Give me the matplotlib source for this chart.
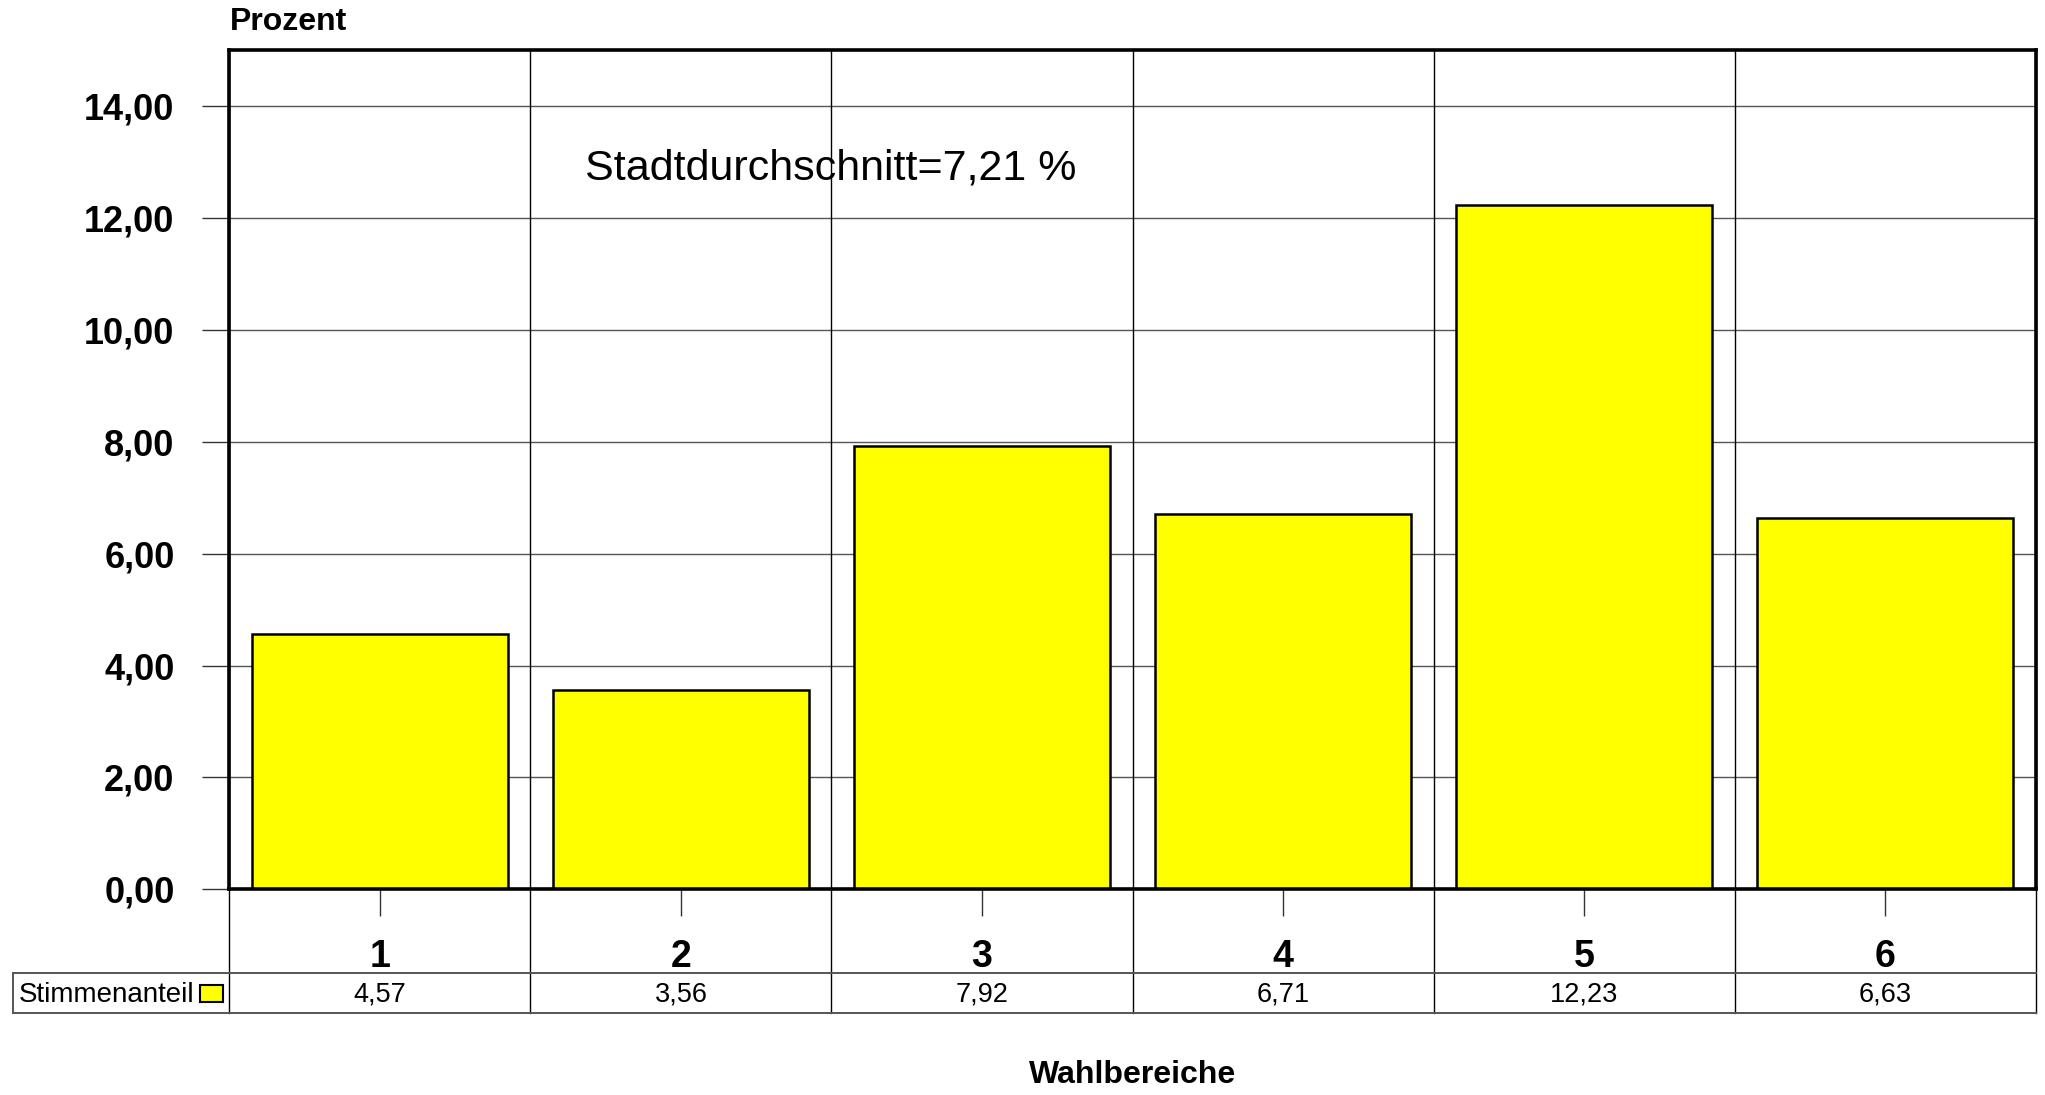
import matplotlib
matplotlib.use("Agg")
import matplotlib.pyplot as plt
import matplotlib.transforms as mtransforms
from matplotlib.patches import Rectangle

plt.rcParams['font.family'] = ['Liberation Sans', 'DejaVu Sans']

# data
bereiche = ['1', '2', '3', '4', '5', '6']
stimmenanteil = [4.57, 3.56, 7.92, 6.71, 12.23, 6.63]
y_ticks = [0, 2, 4, 6, 8, 10, 12, 14]
serie_name = 'Stimmenanteil'
durchschnitt = 7.21

gelb = '#FFFF00'


def de(v):
    # deutsches Dezimalkomma
    return ('%.2f' % v).replace('.', ',')


fig = plt.figure(figsize=(20.45, 10.95), dpi=100)
ax = fig.add_axes([0.1122, 0.1877, 0.8832, 0.767])

x = list(range(len(bereiche)))
ax.bar(x, stimmenanteil, width=0.853, color=gelb, edgecolor='black',
       linewidth=1.8, zorder=3)

ax.set_xlim(-0.5, len(bereiche) - 0.5)
ax.set_ylim(0, 15)

# horizontal grid
ax.set_yticks(y_ticks)
ax.set_yticklabels([de(v) for v in y_ticks], fontsize=26, fontweight='bold')
ax.yaxis.grid(True, color='#555555', linewidth=1.0, zorder=1)
ax.set_axisbelow(True)
ax.tick_params(axis='y', length=19.5, width=1.0, pad=20, color='#333333')

# x ticks at bar centres, labels drawn as text
ax.set_xticks(x)
ax.set_xticklabels([])
ax.tick_params(axis='x', length=19.5, width=1.0, color='#333333')

for s in ax.spines.values():
    s.set_linewidth(2.6)
    s.set_zorder(5)

# table below the plot
trans = mtransforms.blended_transform_factory(ax.transData, ax.transAxes)
tab_top = -0.0994
tab_bot = -0.147
for b in range(len(bereiche) + 1):
    ax.plot([b - 0.5, b - 0.5], [tab_bot, 1], transform=trans, color='black',
            linewidth=1.0, clip_on=False, zorder=2)
leg_left = -0.12
for yy in [tab_top, tab_bot]:
    ax.plot([leg_left, 1], [yy, yy], transform=ax.transAxes, color='#555555',
            linewidth=1.4, clip_on=False)
ax.plot([leg_left, leg_left], [tab_bot, tab_top], transform=ax.transAxes,
        color='#555555', linewidth=1.4, clip_on=False)

for i, lab in enumerate(bereiche):
    ax.text(i, -0.080, lab, transform=trans, ha='center', va='center',
            fontsize=27, fontweight='bold')
    ax.text(i, -0.1255, de(stimmenanteil[i]), transform=trans,
            ha='center', va='center', fontsize=19.5)

ax.text(-0.1165, -0.1255, serie_name, transform=ax.transAxes, ha='left',
        va='center', fontsize=20)
ax.add_patch(Rectangle((-0.0163, -0.1345), 0.0125, 0.021,
                       transform=ax.transAxes, facecolor=gelb,
                       edgecolor='black', linewidth=1.5, clip_on=False))

ax.text(0.68, 12.88, 'Stadtdurchschnitt=' + de(durchschnitt) + ' %',
        ha='left', va='center', fontsize=31)

fig.text(0.1122, 0.98, 'Prozent', ha='left', va='center', fontsize=23,
         fontweight='bold')
fig.text(0.1122 + 0.8832 / 2, 0.0185, 'Wahlbereiche', ha='center', va='center',
         fontsize=23, fontweight='bold')

fig.savefig('out.png', dpi=100)
